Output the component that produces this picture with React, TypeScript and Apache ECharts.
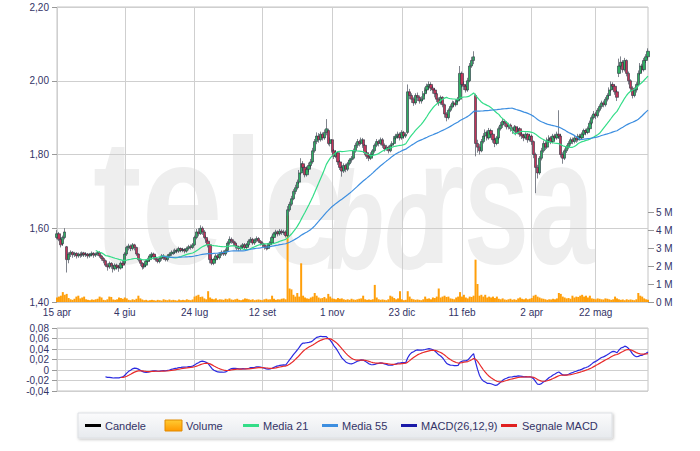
import { useEffect, useRef } from 'react';
import * as echarts from 'echarts';

// ---------- data ----------
const startDate = '2013-04-15';
const tradingDayCount = 306;
const marketHolidays = [
  '2013-05-01', '2013-08-15', '2013-12-24', '2013-12-25', '2013-12-26', '2013-12-31',
  '2014-01-01', '2014-04-18', '2014-04-21', '2014-05-01',
];
const tickDates = ['2013-04-15', '2013-06-04', '2013-07-24', '2013-09-12', '2013-11-01', '2013-12-23', '2014-02-11', '2014-04-02', '2014-05-22'];
const tickLabels = ['15 apr', '4 giu', '24 lug', '12 set', '1 nov', '23 dic', '11 feb', '2 apr', '22 mag'];

// [open, close, low, high]
const candles: number[][] = [
  [1.575,1.585,1.570,1.595],[1.585,1.570,1.565,1.590],[1.570,1.555,1.548,1.575],[1.558,1.575,1.552,1.580],[1.575,1.590,1.570,1.600],
  [1.550,1.515,1.480,1.552],[1.515,1.530,1.505,1.535],[1.530,1.535,1.522,1.540],[1.535,1.528,1.520,1.538],[1.528,1.532,1.522,1.536],
  [1.532,1.525,1.518,1.535],[1.525,1.530,1.520,1.534],[1.530,1.527,1.520,1.535],[1.527,1.533,1.522,1.537],[1.533,1.528,1.522,1.536],
  [1.528,1.530,1.522,1.535],[1.530,1.525,1.518,1.533],[1.525,1.529,1.520,1.533],[1.529,1.532,1.524,1.537],[1.532,1.527,1.520,1.535],
  [1.527,1.530,1.522,1.534],[1.530,1.534,1.525,1.538],[1.534,1.525,1.520,1.538],[1.525,1.518,1.512,1.528],[1.518,1.512,1.505,1.522],
  [1.512,1.500,1.495,1.515],[1.500,1.495,1.485,1.505],[1.495,1.505,1.490,1.510],[1.505,1.498,1.490,1.508],[1.498,1.490,1.480,1.502],
  [1.490,1.500,1.485,1.505],[1.500,1.495,1.488,1.504],[1.495,1.492,1.482,1.500],[1.492,1.505,1.488,1.510],[1.505,1.500,1.492,1.512],
  [1.505,1.530,1.500,1.535],[1.530,1.548,1.525,1.552],[1.548,1.552,1.540,1.558],[1.552,1.545,1.538,1.556],[1.545,1.555,1.540,1.560],
  [1.555,1.548,1.540,1.558],[1.548,1.530,1.525,1.550],[1.530,1.515,1.510,1.532],[1.515,1.505,1.498,1.518],[1.505,1.495,1.488,1.508],
  [1.495,1.500,1.490,1.505],[1.500,1.510,1.495,1.515],[1.510,1.515,1.505,1.520],[1.515,1.525,1.510,1.530],[1.525,1.530,1.520,1.535],
  [1.530,1.522,1.515,1.534],[1.522,1.515,1.510,1.526],[1.515,1.510,1.505,1.520],[1.510,1.518,1.505,1.522],[1.518,1.525,1.512,1.530],
  [1.525,1.520,1.514,1.530],[1.520,1.515,1.510,1.525],[1.515,1.525,1.510,1.530],[1.525,1.530,1.520,1.535],[1.530,1.535,1.525,1.540],
  [1.532,1.535,1.528,1.542],[1.535,1.540,1.530,1.545],[1.540,1.538,1.532,1.545],[1.538,1.545,1.533,1.550],[1.545,1.540,1.535,1.548],
  [1.540,1.542,1.535,1.547],[1.542,1.538,1.532,1.546],[1.538,1.545,1.534,1.550],[1.545,1.550,1.540,1.555],[1.550,1.548,1.542,1.556],
  [1.548,1.555,1.544,1.560],[1.555,1.575,1.552,1.580],[1.575,1.590,1.570,1.598],[1.590,1.585,1.578,1.600],[1.585,1.600,1.582,1.608],
  [1.600,1.590,1.582,1.605],[1.590,1.575,1.570,1.595],[1.575,1.565,1.560,1.580],[1.565,1.555,1.548,1.570],[1.555,1.515,1.505,1.558],
  [1.515,1.505,1.500,1.520],[1.505,1.515,1.500,1.520],[1.515,1.525,1.510,1.530],[1.525,1.520,1.515,1.530],[1.520,1.530,1.515,1.535],
  [1.530,1.535,1.525,1.540],[1.535,1.530,1.525,1.540],[1.530,1.540,1.525,1.545],[1.540,1.560,1.535,1.565],[1.560,1.570,1.555,1.578],
  [1.570,1.565,1.558,1.575],[1.565,1.560,1.552,1.570],[1.560,1.552,1.545,1.564],[1.552,1.548,1.540,1.556],[1.548,1.545,1.538,1.552],
  [1.545,1.550,1.540,1.555],[1.550,1.555,1.545,1.560],[1.555,1.548,1.542,1.560],[1.548,1.555,1.544,1.560],[1.555,1.565,1.550,1.570],
  [1.565,1.570,1.560,1.576],[1.570,1.560,1.555,1.574],[1.560,1.568,1.555,1.572],[1.568,1.572,1.562,1.578],[1.572,1.565,1.560,1.576],
  [1.565,1.560,1.553,1.568],[1.560,1.555,1.548,1.564],[1.555,1.550,1.542,1.558],[1.550,1.545,1.540,1.554],[1.545,1.555,1.542,1.560],
  [1.555,1.560,1.550,1.565],[1.560,1.575,1.556,1.580],[1.575,1.585,1.570,1.590],[1.585,1.590,1.580,1.596],[1.590,1.585,1.578,1.594],
  [1.585,1.592,1.580,1.598],[1.592,1.588,1.582,1.597],[1.588,1.590,1.582,1.596],[1.590,1.580,1.575,1.594],[1.580,1.650,1.576,1.660],
  [1.650,1.665,1.645,1.672],[1.665,1.680,1.660,1.688],[1.680,1.700,1.676,1.706],[1.700,1.710,1.692,1.718],[1.710,1.725,1.705,1.732],
  [1.725,1.750,1.720,1.758],[1.750,1.775,1.745,1.790],[1.775,1.765,1.755,1.782],[1.765,1.745,1.738,1.770],[1.745,1.760,1.740,1.768],
  [1.760,1.770,1.752,1.778],[1.770,1.780,1.765,1.788],[1.780,1.810,1.775,1.818],[1.810,1.835,1.805,1.842],[1.835,1.850,1.828,1.860],
  [1.850,1.840,1.832,1.858],[1.840,1.855,1.835,1.862],[1.855,1.845,1.838,1.860],[1.845,1.860,1.840,1.868],[1.860,1.870,1.852,1.896],
  [1.865,1.830,1.825,1.870],[1.830,1.840,1.822,1.846],[1.840,1.810,1.805,1.842],[1.810,1.795,1.788,1.815],[1.795,1.805,1.790,1.812],
  [1.805,1.780,1.772,1.808],[1.780,1.765,1.758,1.785],[1.765,1.755,1.740,1.770],[1.755,1.770,1.750,1.776],[1.770,1.760,1.752,1.775],
  [1.760,1.775,1.755,1.780],[1.775,1.785,1.770,1.790],[1.785,1.790,1.778,1.796],[1.790,1.810,1.786,1.816],[1.810,1.825,1.805,1.832],
  [1.825,1.835,1.818,1.842],[1.835,1.830,1.822,1.840],[1.830,1.840,1.826,1.846],[1.840,1.825,1.818,1.845],[1.825,1.805,1.798,1.828],
  [1.805,1.795,1.788,1.810],[1.795,1.790,1.782,1.800],[1.790,1.800,1.785,1.806],[1.800,1.810,1.795,1.815],[1.810,1.825,1.805,1.830],
  [1.825,1.835,1.820,1.842],[1.835,1.830,1.822,1.840],[1.830,1.840,1.825,1.846],[1.840,1.825,1.818,1.845],[1.825,1.815,1.808,1.830],
  [1.815,1.820,1.810,1.826],[1.820,1.810,1.803,1.824],[1.810,1.825,1.806,1.830],[1.825,1.830,1.820,1.836],[1.830,1.845,1.826,1.850],
  [1.845,1.850,1.840,1.856],[1.850,1.855,1.843,1.862],[1.855,1.845,1.838,1.860],[1.845,1.860,1.840,1.866],[1.860,1.850,1.843,1.864],
  [1.850,1.855,1.845,1.860],[1.860,1.970,1.855,1.990],[1.970,1.960,1.950,1.978],[1.960,1.950,1.940,1.966],[1.950,1.940,1.932,1.955],
  [1.940,1.960,1.935,1.966],[1.960,1.955,1.945,1.968],[1.955,1.945,1.938,1.960],[1.945,1.950,1.938,1.958],[1.950,1.965,1.945,1.972],
  [1.965,1.975,1.958,1.982],[1.975,1.985,1.968,1.992],[1.985,1.990,1.978,1.998],[1.990,1.980,1.972,1.996],[1.980,1.975,1.965,1.986],
  [1.975,1.965,1.955,1.980],[1.965,1.950,1.942,1.968],[1.950,1.940,1.932,1.955],[1.940,1.955,1.935,1.960],[1.955,1.935,1.928,1.958],
  [1.935,1.910,1.900,1.938],[1.910,1.900,1.890,1.915],[1.900,1.920,1.895,1.925],[1.920,1.930,1.915,1.936],[1.930,1.940,1.925,1.946],
  [1.940,1.935,1.928,1.945],[1.935,1.945,1.930,1.950],[1.945,1.950,1.940,1.956],[1.950,2.020,1.948,2.040],[2.020,1.990,1.982,2.025],
  [1.990,1.985,1.975,1.998],[1.985,1.975,1.968,1.990],[1.975,2.000,1.970,2.008],[2.000,2.040,1.996,2.048],[2.040,2.055,2.035,2.065],
  [2.055,2.065,2.045,2.080],[1.960,1.830,1.795,1.965],[1.830,1.820,1.805,1.840],[1.820,1.810,1.800,1.828],[1.810,1.835,1.806,1.842],
  [1.835,1.850,1.830,1.858],[1.850,1.860,1.842,1.868],[1.860,1.845,1.838,1.865],[1.845,1.865,1.840,1.872],[1.865,1.855,1.848,1.870],
  [1.855,1.840,1.832,1.858],[1.840,1.830,1.820,1.845],[1.830,1.845,1.825,1.850],[1.845,1.870,1.840,1.876],[1.870,1.880,1.865,1.888],
  [1.880,1.890,1.872,1.898],[1.890,1.885,1.876,1.895],[1.885,1.875,1.868,1.890],[1.875,1.880,1.868,1.886],[1.880,1.870,1.862,1.884],
  [1.870,1.865,1.856,1.875],[1.865,1.875,1.860,1.880],[1.875,1.860,1.852,1.878],[1.860,1.870,1.855,1.876],[1.870,1.855,1.848,1.874],
  [1.855,1.850,1.842,1.860],[1.850,1.845,1.836,1.856],[1.845,1.855,1.840,1.860],[1.855,1.840,1.832,1.858],[1.840,1.850,1.835,1.856],
  [1.850,1.835,1.826,1.854],[1.835,1.800,1.790,1.838],[1.800,1.765,1.695,1.805],[1.765,1.750,1.735,1.772],[1.750,1.790,1.745,1.796],
  [1.790,1.810,1.784,1.818],[1.810,1.830,1.805,1.838],[1.830,1.820,1.812,1.836],[1.820,1.840,1.815,1.846],[1.840,1.845,1.832,1.852],
  [1.845,1.835,1.828,1.850],[1.835,1.850,1.830,1.856],[1.850,1.845,1.838,1.856],[1.845,1.855,1.840,1.862],[1.855,1.850,1.842,1.920],
  [1.850,1.800,1.792,1.856],[1.800,1.790,1.775,1.806],[1.790,1.810,1.785,1.816],[1.810,1.820,1.804,1.826],[1.820,1.830,1.814,1.836],
  [1.830,1.840,1.824,1.846],[1.840,1.835,1.828,1.846],[1.835,1.845,1.830,1.850],[1.845,1.840,1.832,1.850],[1.840,1.850,1.835,1.856],
  [1.850,1.845,1.838,1.856],[1.845,1.855,1.840,1.860],[1.855,1.865,1.850,1.870],[1.865,1.860,1.852,1.870],[1.860,1.870,1.855,1.876],
  [1.870,1.885,1.865,1.892],[1.885,1.900,1.880,1.906],[1.900,1.910,1.895,1.918],[1.910,1.905,1.896,1.915],[1.905,1.920,1.900,1.926],
  [1.920,1.930,1.914,1.936],[1.930,1.940,1.924,1.946],[1.940,1.935,1.928,1.946],[1.935,1.950,1.930,1.956],[1.950,1.960,1.944,1.966],
  [1.960,1.975,1.955,1.982],[1.975,1.990,1.970,1.998],[1.990,1.985,1.976,1.996],[1.985,1.970,1.962,1.990],[1.970,1.955,1.945,1.975],
  [2.020,2.040,2.010,2.060],[2.040,2.050,2.032,2.066],[2.050,2.030,2.022,2.056],[2.030,2.055,2.025,2.062],[2.055,2.020,2.012,2.058],
  [2.020,2.000,1.990,2.025],[2.000,1.980,1.972,2.004],[1.980,1.960,1.952,1.985],[1.960,1.975,1.955,1.982],[1.975,1.990,1.968,1.996],
  [1.990,2.020,1.985,2.028],[2.020,2.040,2.015,2.048],[2.040,2.030,2.022,2.046],[2.030,2.055,2.025,2.062],[2.055,2.065,2.048,2.072],
  [2.065,2.080,2.058,2.088],
];

// volume, millions of shares
const volumes: number[] = [
  0.25,0.30,0.35,0.55,0.40,0.45,0.22,0.15,0.12,0.18,
  0.30,0.35,0.20,0.25,0.30,0.15,0.12,0.10,0.14,0.12,
  0.15,0.18,0.30,0.25,0.12,0.10,0.15,0.30,0.28,0.14,
  0.12,0.15,0.25,0.22,0.18,0.25,0.20,0.12,0.10,0.15,
  0.12,0.18,0.35,0.20,0.14,0.10,0.12,0.08,0.10,0.12,
  0.10,0.08,0.12,0.10,0.08,0.15,0.12,0.10,0.14,0.10,
  0.12,0.10,0.08,0.14,0.10,0.12,0.10,0.15,0.12,0.10,
  0.14,0.30,0.35,0.40,0.28,0.30,0.20,0.15,0.60,0.25,
  0.18,0.15,0.20,0.12,0.15,0.14,0.12,0.18,0.15,0.20,
  0.14,0.12,0.15,0.18,0.12,0.10,0.14,0.20,0.18,0.15,
  0.12,0.15,0.10,0.12,0.14,0.12,0.10,0.15,0.18,0.14,
  0.15,0.35,0.18,0.12,0.15,0.14,0.18,0.20,0.15,4.80,
  0.75,0.70,0.40,0.30,0.50,0.30,2.15,0.35,0.25,0.20,
  0.18,0.25,0.30,0.50,0.35,0.25,0.20,0.22,0.28,0.20,
  0.45,0.30,0.20,0.18,0.15,0.22,0.18,0.20,0.15,0.12,
  0.15,0.12,0.18,0.14,0.12,0.15,0.18,0.20,0.35,0.15,
  0.12,0.14,0.12,0.15,0.95,0.25,0.15,0.12,0.14,0.12,
  0.10,0.15,0.35,0.30,0.22,0.15,0.20,0.60,0.15,0.10,
  0.12,0.60,0.30,0.18,0.15,0.12,0.14,0.12,0.10,0.15,
  0.30,0.18,0.20,0.15,0.25,0.22,0.30,0.75,0.25,0.30,
  0.35,0.28,0.30,0.20,0.18,0.15,0.25,0.30,0.55,0.30,
  0.40,0.25,0.20,0.30,0.28,0.35,2.35,1.00,0.35,0.40,
  0.30,0.40,0.25,0.30,0.25,0.30,0.22,0.30,0.18,0.15,
  0.20,0.14,0.12,0.15,0.18,0.12,0.15,0.12,0.20,0.25,
  0.18,0.15,0.20,0.15,0.18,0.22,0.35,0.40,0.30,0.25,
  0.20,0.18,0.15,0.12,0.15,0.14,0.18,0.15,0.20,0.50,
  0.45,0.30,0.25,0.20,0.22,0.18,0.35,0.25,0.30,0.28,
  0.35,0.40,0.30,0.35,0.25,0.35,0.20,0.18,0.15,0.20,
  0.18,0.15,0.14,0.20,0.18,0.15,0.12,0.15,0.30,0.20,
  0.15,0.12,0.14,0.10,0.15,0.12,0.14,0.12,0.10,0.15,
  0.50,0.35,0.30,0.20,0.15,0.12,
];

const maShort = 21;
const maLong = 55;
const macdFast = 12;
const macdSlow = 26;
const macdSignal = 9;

// ---------- helpers ----------
function tradingDays(start: string, count: number, holidays: string[]): string[] {
  const out: string[] = [];
  const d = new Date(start + 'T00:00:00Z');
  while (out.length < count) {
    const dow = d.getUTCDay();
    const iso = d.toISOString().slice(0, 10);
    if (dow !== 0 && dow !== 6 && holidays.indexOf(iso) < 0) out.push(iso);
    d.setUTCDate(d.getUTCDate() + 1);
  }
  return out;
}

function movingAverage(values: number[], n: number): (number | string)[] {
  return values.map((_, i) => {
    if (i < n - 1) return '-';
    let s = 0;
    for (let k = i - n + 1; k <= i; k++) s += values[k];
    return +(s / n).toFixed(4);
  });
}

function ema(values: number[], n: number): number[] {
  const k = 2 / (n + 1);
  let prev = values[0];
  return values.map((v, i) => {
    prev = i === 0 ? v : v * k + prev * (1 - k);
    return prev;
  });
}

const FONT = 'Tahoma, "Liberation Sans", Arial, sans-serif';
const LABEL_COLOR = '#333366';
const GRID_COLOR = '#cfcfcf';
const WM_COLOR = '#eeeeee';

export default function App() {
  const ref = useRef<HTMLDivElement>(null);

  useEffect(() => {
    if (!ref.current) return;
    const chart = echarts.init(ref.current, undefined, { renderer: 'svg' });

    const dates = tradingDays(startDate, tradingDayCount, marketHolidays);
    const closes = candles.map((c) => c[1]);
    const ma21 = movingAverage(closes, maShort);
    const ma55 = movingAverage(closes, maLong);
    const fast = ema(closes, macdFast);
    const slow = ema(closes, macdSlow);
    const macdRaw = closes.map((_, i) => fast[i] - slow[i]);
    const macdStart = macdSlow - 1;
    const sigRaw = ema(macdRaw.slice(macdStart), macdSignal);
    const macd = macdRaw.map((v, i) => (i < macdStart ? '-' : +v.toFixed(5)));
    const signal = macdRaw.map((_, i) =>
      i < macdStart + macdSignal - 1 ? '-' : +sigRaw[i - macdStart].toFixed(5)
    );

    const isTick = (_idx: number, val: string) => tickDates.indexOf(val) >= 0;
    const fmtDate = (val: string) => {
      const k = tickDates.indexOf(val);
      return k >= 0 ? tickLabels[k] : '';
    };
    const comma = (v: number) => (Math.abs(v) < 1e-9 ? '0' : v.toFixed(2).replace('.', ','));

    const baseX = {
      type: 'category' as const,
      data: dates,
      boundaryGap: false,
      axisLine: { show: false },
      axisTick: { show: false },
    };

    const legendText = (text: string, x: number) => ({
      type: 'text',
      x,
      y: 425.5,
      style: { text, fill: LABEL_COLOR, font: `11px ${FONT}`, verticalAlign: 'middle' },
    });
    const legendLine = (x: number, color: string) => ({
      type: 'rect',
      shape: { x, y: 424, width: 16, height: 3 },
      style: { fill: color },
    });
    const wmFont = `bold 178px "Liberation Sans", Arial, sans-serif`;

    chart.setOption({
      animation: false,
      backgroundColor: '#ffffff',
      textStyle: { fontFamily: FONT },
      graphic: [
        {
          type: 'text',
          z: -10,
          x: 93,
          y: 290,
          scaleX: 0.82,
          style: { text: 'tele', fill: WM_COLOR, font: wmFont, verticalAlign: 'bottom' },
        },
        {
          type: 'text',
          z: -10,
          x: 326,
          y: 290,
          scaleX: 0.68,
          style: { text: 'bo', fill: WM_COLOR, font: `italic bold 140px "Liberation Sans", Arial, sans-serif`, verticalAlign: 'bottom' },
        },
        {
          type: 'text',
          z: -10,
          x: 418,
          y: 290,
          scaleX: 0.66,
          style: { text: 'rsa', fill: WM_COLOR, font: wmFont, verticalAlign: 'bottom' },
        },
        {
          type: 'rect',
          shape: { x: 78, y: 413, width: 534, height: 25 },
          style: {
            fill: new echarts.graphic.LinearGradient(0, 0, 0, 1, [
              { offset: 0, color: '#fbfbfc' },
              { offset: 1, color: '#e7eaee' },
            ]),
            stroke: '#dde0e4',
            lineWidth: 1,
            shadowBlur: 3,
            shadowOffsetX: 1,
            shadowOffsetY: 1,
            shadowColor: 'rgba(0,0,0,0.25)',
          },
        },
        legendLine(85, '#000000'),
        legendText('Candele', 105),
        {
          type: 'rect',
          shape: { x: 165, y: 420, width: 17, height: 11 },
          style: {
            fill: new echarts.graphic.LinearGradient(0, 0, 0, 1, [
              { offset: 0, color: '#ffcc33' },
              { offset: 1, color: '#ff9900' },
            ]),
            stroke: '#e08a00',
            lineWidth: 1,
          },
        },
        legendText('Volume', 186),
        legendLine(243, '#33dd88'),
        legendText('Media 21', 263),
        legendLine(322, '#3c8ee0'),
        legendText('Media 55', 342),
        legendLine(401, '#1a1aa8'),
        legendText('MACD(26,12,9)', 421),
        legendLine(501, '#e02020'),
        legendText('Segnale MACD', 522),
      ],
      grid: [
        { left: 57, top: 7, width: 591, height: 295, show: true, borderColor: '#c4c4c4', borderWidth: 1 },
        { left: 57, top: 212, width: 591, height: 90 },
        { left: 57, top: 328, width: 591, height: 63, show: true, borderColor: '#c4c4c4', borderWidth: 1 },
      ],
      xAxis: [
        {
          ...baseX,
          gridIndex: 0,
          axisLabel: {
            interval: isTick,
            formatter: fmtDate,
            color: LABEL_COLOR,
            fontSize: 10,
            fontFamily: FONT,
            margin: 5,
          },
          splitLine: { show: true, interval: isTick, lineStyle: { color: GRID_COLOR, width: 1 } },
        },
        { ...baseX, gridIndex: 1, show: false },
        {
          ...baseX,
          gridIndex: 2,
          axisLabel: { show: false },
          splitLine: { show: true, interval: isTick, lineStyle: { color: GRID_COLOR, width: 1 } },
        },
      ],
      yAxis: [
        {
          type: 'value',
          gridIndex: 0,
          min: 1.4,
          max: 2.2,
          interval: 0.2,
          axisLine: { show: false },
          axisTick: { show: true, length: 5, lineStyle: { color: '#999' } },
          axisLabel: { formatter: comma, color: LABEL_COLOR, fontSize: 10, fontFamily: FONT, margin: 8 },
          splitLine: { show: true, lineStyle: { color: GRID_COLOR, width: 1 } },
        },
        {
          type: 'value',
          gridIndex: 1,
          position: 'right',
          min: 0,
          max: 5,
          interval: 1,
          axisLine: { show: false },
          axisTick: { show: true, length: 6, lineStyle: { color: '#999' } },
          axisLabel: { formatter: (v: number) => `${v} M`, color: LABEL_COLOR, fontSize: 10, fontFamily: FONT, margin: 8 },
          splitLine: { show: false },
        },
        {
          type: 'value',
          gridIndex: 2,
          min: -0.04,
          max: 0.08,
          interval: 0.02,
          axisLine: { show: false },
          axisTick: { show: true, length: 5, lineStyle: { color: '#999' } },
          axisLabel: { formatter: comma, color: LABEL_COLOR, fontSize: 10, fontFamily: FONT, margin: 8 },
          splitLine: { show: true, lineStyle: { color: GRID_COLOR, width: 1 } },
        },
      ],
      series: [
        {
          name: 'Volume',
          type: 'bar',
          xAxisIndex: 1,
          yAxisIndex: 1,
          data: volumes,
          barWidth: 2,
          z: 1,
          itemStyle: { color: '#ff9f0a' },
        },
        {
          name: 'Candele',
          type: 'candlestick',
          xAxisIndex: 0,
          yAxisIndex: 0,
          data: candles,
          barWidth: 2.8,
          z: 3,
          itemStyle: {
            color: '#2fae62',
            color0: '#c2345a',
            borderColor: '#2a3040',
            borderColor0: '#2a3040',
            borderWidth: 0.6,
          },
        },
        {
          name: 'Media 21',
          type: 'line',
          xAxisIndex: 0,
          yAxisIndex: 0,
          data: ma21,
          showSymbol: false,
          z: 4,
          lineStyle: { color: '#33dd88', width: 1.2 },
        },
        {
          name: 'Media 55',
          type: 'line',
          xAxisIndex: 0,
          yAxisIndex: 0,
          data: ma55,
          showSymbol: false,
          z: 4,
          lineStyle: { color: '#3c8ee0', width: 1.2 },
        },
        {
          name: 'MACD(26,12,9)',
          type: 'line',
          xAxisIndex: 2,
          yAxisIndex: 2,
          data: macd,
          showSymbol: false,
          lineStyle: { color: '#2a2ae0', width: 1.2 },
        },
        {
          name: 'Segnale MACD',
          type: 'line',
          xAxisIndex: 2,
          yAxisIndex: 2,
          data: signal,
          showSymbol: false,
          lineStyle: { color: '#e82a2a', width: 1.2 },
        },
      ],
    });

    return () => chart.dispose();
  }, []);

  return <div ref={ref} style={{ position: 'fixed', left: 0, top: 0, width: 700, height: 451 }} />;
}
